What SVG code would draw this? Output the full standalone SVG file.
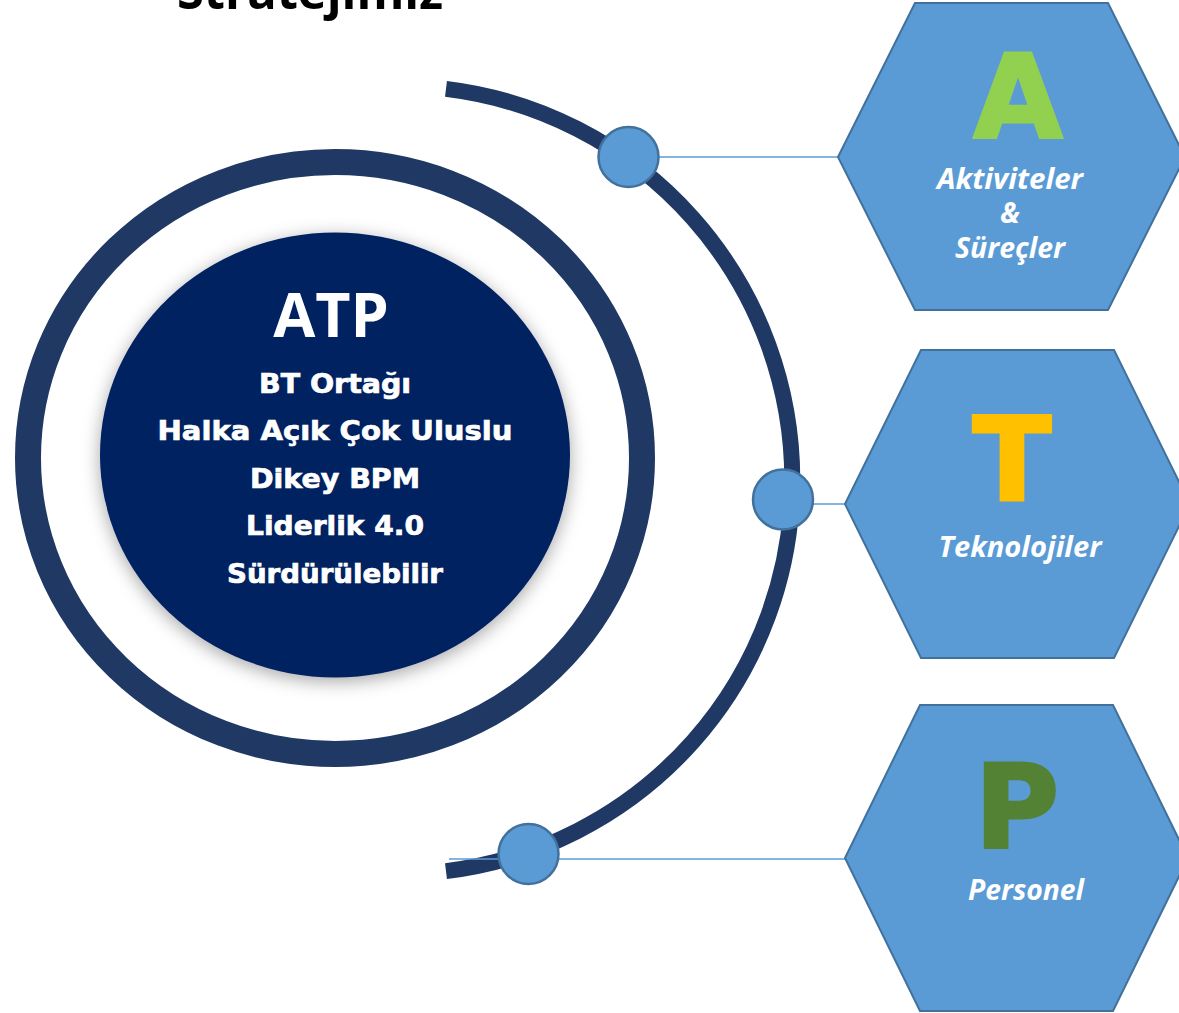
<svg xmlns="http://www.w3.org/2000/svg" width="1179" height="1013" viewBox="0 0 1179 1013">
<style>
.title{font-family:"Open Sans","Liberation Sans",sans-serif;font-weight:700;font-size:50px;fill:#000}
.hex{fill:#5b9bd5;stroke:#41719c;stroke-width:2}
.dot{fill:#5b9bd5;stroke:#41719c;stroke-width:2.5}
.conn{stroke:#5b9bd5;stroke-width:1.5;fill:none}
.big{font-family:"DejaVu Sans","Liberation Sans",sans-serif;font-weight:700;font-size:115px;text-anchor:middle;stroke-width:3;stroke-linejoin:miter}
.lbl{font-family:"Open Sans","Noto Sans",sans-serif;font-weight:700;font-style:italic;font-size:28px;fill:#fff;text-anchor:middle}
.core{font-family:"DejaVu Sans","Liberation Sans",sans-serif;font-weight:700;font-size:26px;fill:#fff;stroke:#fff;stroke-width:0.7;text-anchor:middle}
.atp{font-family:"Open Sans","Liberation Sans",sans-serif;font-weight:700;font-size:61px;fill:#fff;text-anchor:middle}
</style>
<defs>
<filter id="sh" x="-20%" y="-20%" width="140%" height="140%">
<feDropShadow dx="0" dy="4" stdDeviation="9" flood-color="#000" flood-opacity="0.35"/>
</filter>
</defs>
<rect width="1179" height="1013" fill="#fff"/>
<text class="title" x="177" y="9" textLength="266" lengthAdjust="spacingAndGlyphs">Stratejimiz</text>

<g id="ring">
<ellipse cx="335" cy="458" rx="307" ry="296" fill="none" stroke="#203864" stroke-width="26"/>
</g>
<g id="core">
<ellipse cx="335" cy="455" rx="235" ry="222.5" fill="#002060" filter="url(#sh)"/>
<text class="atp" x="331" y="337">ATP</text>
<text class="core" x="335" y="393" textLength="152" lengthAdjust="spacingAndGlyphs">BT Ortağı</text>
<text class="core" x="335" y="440" textLength="355" lengthAdjust="spacingAndGlyphs">Halka Açık Çok Uluslu</text>
<text class="core" x="335" y="488" textLength="170" lengthAdjust="spacingAndGlyphs">Dikey BPM</text>
<text class="core" x="335" y="535" textLength="178" lengthAdjust="spacingAndGlyphs">Liderlik 4.0</text>
<text class="core" x="335" y="583" textLength="216" lengthAdjust="spacingAndGlyphs">Sürdürülebilir</text>
</g>

<g id="arc">
<path d="M 446 88.9 A 394 394 0 0 1 446 871.1" fill="none" stroke="#203864" stroke-width="16"/>
</g>

<g id="connectors">
<line class="conn" x1="640" y1="157" x2="839" y2="157"/>
<line class="conn" x1="800" y1="504" x2="846" y2="504"/>
<line class="conn" x1="449" y1="859" x2="846" y2="859"/>
</g>

<g id="dot-a"><circle class="dot" cx="628.5" cy="157" r="30"/></g>
<g id="dot-t"><circle class="dot" cx="783" cy="499.5" r="30"/></g>
<g id="dot-p"><circle class="dot" cx="528.5" cy="854" r="30"/></g>

<g id="hex-a">
<polygon class="hex" points="838,157 915,3 1108,3 1185,157 1108,310 915,310"/>
<text class="big" x="1018" y="137" fill="#92d050" stroke="#92d050">A</text>
<text class="lbl" x="1010" y="189" textLength="146" lengthAdjust="spacingAndGlyphs">Aktiviteler</text>
<text class="lbl" x="1010" y="223">&amp;</text>
<text class="lbl" x="1010" y="258" textLength="110" lengthAdjust="spacingAndGlyphs">Süreçler</text>
</g>

<g id="hex-t">
<polygon class="hex" points="845,504 921,350 1114,350 1190,504 1114,658 921,658"/>
<text class="big" x="1012" y="500" fill="#ffc000" stroke="#ffc000">T</text>
<text class="lbl" x="1020" y="557" textLength="163" lengthAdjust="spacingAndGlyphs">Teknolojiler</text>
</g>

<g id="hex-p">
<polygon class="hex" points="845,858 920,705 1113,705 1188,858 1113,1011 920,1011"/>
<text class="big" x="1017" y="847" fill="#548235" stroke="#548235">P</text>
<text class="lbl" x="1026" y="900" textLength="116" lengthAdjust="spacingAndGlyphs">Personel</text>
</g>
</svg>
